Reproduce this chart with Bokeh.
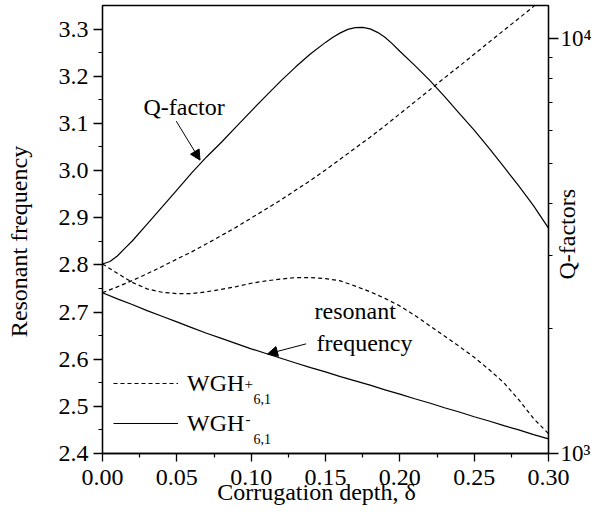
from math import pi
from bokeh.plotting import figure
from bokeh.models import (Range1d, LogScale, LogAxis, FixedTicker,
                          PrintfTickFormatter, Legend, LegendItem, Label, Arrow, NormalHead)
from bokeh.embed import file_html
from bokeh.resources import INLINE

FONT = "'Liberation Serif', 'Times New Roman', Times, serif"
NB = "\u00a0"

# Corrugation depth (shared by the frequency curves and the WGH+ Q curve)
delta = [0.00, 0.01, 0.02, 0.03, 0.04, 0.05, 0.06, 0.07, 0.08, 0.09, 0.10,
         0.11, 0.12, 0.13, 0.14, 0.15, 0.16, 0.17, 0.18, 0.19, 0.20,
         0.21, 0.22, 0.23, 0.24, 0.25, 0.26, 0.27, 0.28, 0.29, 0.30]

# Resonant frequency (left axis)
freq_plus = [2.802, 2.782, 2.763, 2.749, 2.742, 2.739, 2.739, 2.743, 2.748, 2.754, 2.761,
             2.766, 2.770, 2.773, 2.773, 2.771, 2.766, 2.755, 2.743, 2.729, 2.713,
             2.693, 2.671, 2.649, 2.627, 2.604, 2.578, 2.550, 2.514, 2.474, 2.442]
freq_minus = [2.741, 2.728, 2.716, 2.703, 2.691, 2.679, 2.667, 2.655, 2.644, 2.633, 2.622,
              2.612, 2.602, 2.592, 2.582, 2.573, 2.563, 2.554, 2.545, 2.535, 2.526,
              2.516, 2.507, 2.497, 2.488, 2.478, 2.469, 2.459, 2.450, 2.440, 2.431]

# Q-factor of WGH+ (right, log axis)
q_plus = [2440, 2520, 2610, 2710, 2820, 2940, 3060, 3200, 3350, 3510, 3690,
          3880, 4080, 4310, 4550, 4820, 5120, 5440, 5780, 6160, 6580,
          7030, 7510, 8030, 8570, 9160, 9790, 10460, 11170, 11940, 12750]

# Q-factor of WGH- (right, log axis), finer sampling at start and near the peak
delta_qm = [0.000, 0.005, 0.010, 0.015, 0.020, 0.030, 0.040, 0.050, 0.060, 0.070, 0.080,
            0.090, 0.100, 0.110, 0.120, 0.130, 0.140, 0.150, 0.155, 0.160, 0.165,
            0.170, 0.175, 0.180, 0.185, 0.190, 0.195, 0.200, 0.210, 0.220, 0.230,
            0.240, 0.250, 0.260, 0.270, 0.280, 0.290, 0.300]
q_minus = [2860, 2900, 2990, 3120, 3250, 3570, 3920, 4310, 4740, 5180, 5620,
           6130, 6680, 7270, 7900, 8540, 9180, 9780, 10060, 10310, 10510,
           10610, 10630, 10540, 10340, 10060, 9700, 9310, 8610, 7930, 7250,
           6600, 6010, 5440, 4900, 4410, 3950, 3490]

x_major = [0.00, 0.05, 0.10, 0.15, 0.20, 0.25, 0.30]
x_minor = [0.025, 0.075, 0.125, 0.175, 0.225, 0.275]
y_major = [2.4, 2.5, 2.6, 2.7, 2.8, 2.9, 3.0, 3.1, 3.2, 3.3]
y_minor = [2.45, 2.55, 2.65, 2.75, 2.85, 2.95, 3.05, 3.15, 3.25]
q_major = [1000, 10000]
q_minor = [2000, 3000, 4000, 5000, 6000, 7000, 8000, 9000]
q_labels = {1000: "10\u00b3", 10000: "10\u2074"}

p = figure(width=595, height=509, x_range=Range1d(0, 0.3), y_range=Range1d(2.4, 3.35),
           output_backend="svg", toolbar_location=None,
           min_border_left=102, min_border_right=45, min_border_top=5, min_border_bottom=56)
p.extra_y_ranges = {"q": Range1d(1000, 12000)}
p.extra_y_scales = {"q": LogScale()}
p.xgrid.visible = False
p.ygrid.visible = False
p.outline_line_color = "black"
p.outline_line_width = 1.3
p.background_fill_color = "white"
p.border_fill_color = "white"

raxis = LogAxis(y_range_name="q", ticker=FixedTicker(ticks=q_major, minor_ticks=q_minor))
raxis.major_label_overrides = q_labels
p.add_layout(raxis, "right")

p.xaxis.ticker = FixedTicker(ticks=x_major, minor_ticks=x_minor)
p.xaxis.formatter = PrintfTickFormatter(format="%.2f")
p.yaxis[0].ticker = FixedTicker(ticks=y_major, minor_ticks=y_minor)
p.yaxis[0].formatter = PrintfTickFormatter(format="%.1f")

for ax, tout in [(p.xaxis[0], 8), (p.yaxis[0], 9), (raxis, 10)]:
    ax.major_tick_in = 0
    ax.major_tick_out = tout
    ax.minor_tick_in = 0
    ax.minor_tick_out = 4
    ax.axis_line_width = 1.3
    ax.major_tick_line_width = 1.3
    ax.minor_tick_line_width = 1.2
    ax.axis_line_color = "black"
    ax.major_tick_line_color = "black"
    ax.minor_tick_line_color = "black"
    ax.major_label_text_font = FONT
    ax.major_label_text_font_size = "24px"
    ax.major_label_text_font_style = "normal"
    ax.major_label_text_color = "black"
    ax.major_label_standoff = 5
    ax.axis_label_text_font = FONT
    ax.axis_label_text_font_size = "24px"
    ax.axis_label_text_font_style = "normal"
    ax.axis_label_text_color = "black"

p.xaxis[0].axis_label = "Corrugation depth, \u03b4" + NB * 3
p.xaxis[0].major_label_standoff = 8
p.xaxis[0].axis_label_standoff = -9
p.yaxis[0].axis_label = "Resonant frequency" + NB * 4
p.yaxis[0].axis_label_standoff = 24

raxis.major_label_standoff = 2
raxis.major_label_text_font_size = "23px"
raxis.axis_label_standoff = -28
try:
    raxis.axis_label_orientation = pi / 2
except Exception:
    pass
if "axis_label_align" in raxis.properties():
    raxis.axis_label_align = "start"
    raxis.axis_label = NB * 29 + "Q-factors"
else:
    raxis.axis_label = "Q-factors"

r_fp = p.line(delta, freq_plus, line_color="black", line_width=1.2, line_dash="4 3")
r_fm = p.line(delta, freq_minus, line_color="black", line_width=1.2)
r_qp = p.line(delta, q_plus, y_range_name="q", line_color="black", line_width=1.2, line_dash="4 3")
r_qm = p.line(delta_qm, q_minus, y_range_name="q", line_color="black", line_width=1.2)

legend = Legend(items=[LegendItem(label="WGH", renderers=[r_qp]),
                       LegendItem(label="WGH", renderers=[r_qm])],
                location=(11, 15), glyph_width=65, glyph_height=30, label_height=30,
                label_standoff=9, spacing=10, padding=0, margin=0,
                border_line_alpha=0, background_fill_alpha=0,
                label_text_font=FONT, label_text_font_size="24px",
                label_text_font_style="normal", label_text_color="black")
p.add_layout(legend)

def lab(text, x, y, size="24px"):
    p.add_layout(Label(x=x, y=y, x_units="screen", y_units="screen", text=text,
                       text_font=FONT, text_font_size=size, text_color="black",
                       text_baseline="alphabetic", text_align="left"))

# legend super/subscripts
lab("+", 142, 70, "15px")
lab("6,1", 151, 55, "14px")
lab("-", 143, 35, "15px")
lab("6,1", 151, 15, "14px")

# curve annotations
lab("Q-factor", 41, 347)
lab("resonant", 212, 143)
lab("frequency", 214, 111)

p.add_layout(Arrow(end=NormalHead(size=10, fill_color="black", line_color="black", line_width=1),
                   x_start=0.0496, y_start=6318, x_end=0.0656, y_end=5090,
                   y_range_name="q", line_width=1, line_color="black"))
p.add_layout(Arrow(end=NormalHead(size=10, fill_color="black", line_color="black", line_width=1),
                   x_start=0.137, y_start=2.6325, x_end=0.111, y_end=2.611,
                   line_width=1, line_color="black"))

open("out.html", "w").write(file_html(p, INLINE))
